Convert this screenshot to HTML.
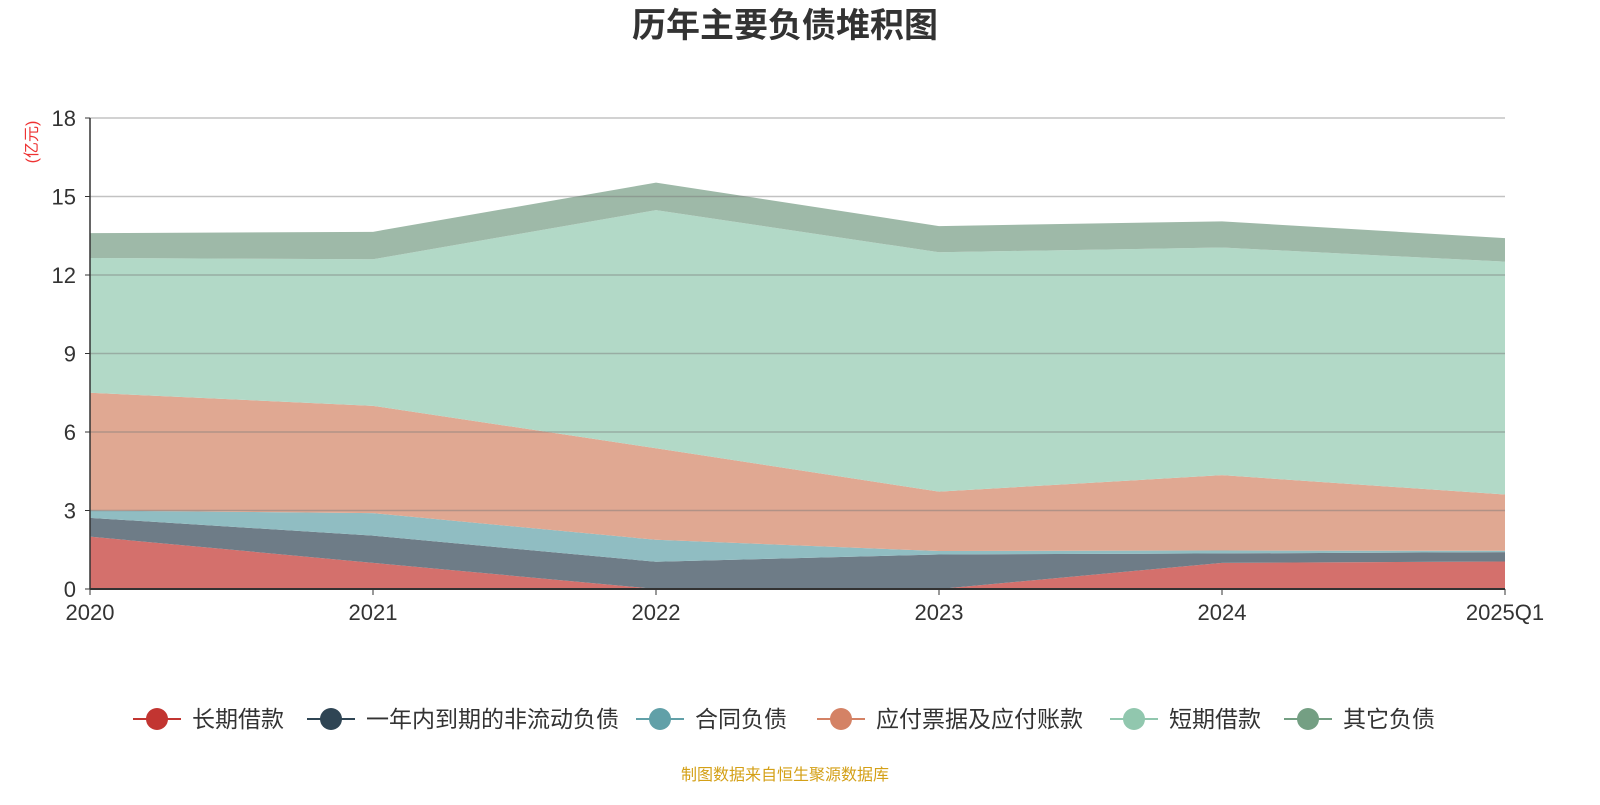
<!DOCTYPE html>
<html><head><meta charset="utf-8"><style>
body{margin:0;background:#fff;font-family:"Liberation Sans","Noto Sans CJK SC",sans-serif}
</style></head><body>
<svg id="c" width="1600" height="800" xmlns="http://www.w3.org/2000/svg" style="font-family:'Liberation Sans','Noto Sans CJK SC',sans-serif">
<text x="785" y="37" text-anchor="middle" font-size="34" font-weight="bold" fill="#333">历年主要负债堆积图</text>
<text transform="translate(37,142) rotate(-90)" text-anchor="middle" font-size="16" fill="#e33">(亿元)</text>
<g id="areas"></g><g id="grid"></g><g id="axes"></g><g id="legend"></g>
<text x="785" y="780" text-anchor="middle" font-size="16" fill="#d4a017">制图数据来自恒生聚源数据库</text>
</svg>
<script>
const categories=["2020","2021","2022","2023","2024","2025Q1"];
const seriesNames=["长期借款","一年内到期的非流动负债","合同负债","应付票据及应付账款","短期借款","其它负债"];
const s0=[2.0,1.0,0,0,1.0,1.05];
const s1=[0.72,1.04,1.04,1.32,0.36,0.36];
const s2=[0.28,0.86,0.84,0.13,0.11,0.05];
const s3=[4.5,4.1,3.5,2.27,2.88,2.15];
const s4=[5.15,5.6,9.1,9.15,8.7,8.9];
const s5=[0.95,1.05,1.05,1.0,1.0,0.9];
const yTicks=[0,3,6,9,12,15,18];
const series=[s0,s1,s2,s3,s4,s5];
const fills=["#d4706c","#6e7c87","#90bdc2","#e0a892","#b2d9c7","#9eb9a8"];
const marks=["#c23531","#2f4554","#61a0a8","#d48265","#91c7ae","#749f83"];
const NS="http://www.w3.org/2000/svg";
const X0=90,X1=1505,Y0=589,Y1=118,YMAX=18;
const x=i=>X0+(X1-X0)*i/(categories.length-1);
const y=v=>Y0-(Y0-Y1)*v/YMAX;
function mk(t,a,p){const e=document.createElementNS(NS,t);for(const k in a)e.setAttribute(k,a[k]);p.appendChild(e);return e;}
const areas=document.getElementById('areas');
let base=categories.map(()=>0);
series.forEach((s,si)=>{
  const top=base.map((b,i)=>b+s[i]);
  let d=top.map((v,i)=>(i?'L':'M')+x(i)+','+y(v)).join('');
  for(let i=base.length-1;i>=0;i--)d+='L'+x(i)+','+y(base[i]);
  const p=mk('path',{d:d+'Z',fill:fills[si]},areas);
  
  
  base=top;
});
const grid=document.getElementById('grid'),axes=document.getElementById('axes');
yTicks.forEach(t=>{
  if(t>0){const l=mk('line',{x1:X0,x2:X1,y1:y(t),y2:y(t),stroke:'rgba(120,120,120,0.45)','stroke-width':1.5},grid);
  
  }
  mk('line',{x1:X0-5,x2:X0,y1:y(t),y2:y(t),stroke:'#333'},axes);
  const tx=mk('text',{x:X0-14,y:y(t)+8,'text-anchor':'end','font-size':22,fill:'#333'},axes);
  tx.textContent=t;
  
  
});
mk('line',{x1:X0,x2:X0,y1:Y1,y2:Y0,stroke:'#333','stroke-width':1.5},axes);
mk('line',{x1:X0,x2:X1,y1:Y0,y2:Y0,stroke:'#333','stroke-width':2},axes);
categories.forEach((c,i)=>{
  mk('line',{x1:x(i),x2:x(i),y1:Y0,y2:Y0+6,stroke:'#333'},axes);
  const tx=mk('text',{x:x(i),y:Y0+31,'text-anchor':'middle','font-size':22,fill:'#333'},axes);
  tx.textContent=c;
  
  
});
const lg=document.getElementById('legend');
const lx=[157,331,660,841,1134,1308];
seriesNames.forEach((n,i)=>{
  const g=mk('g',{},lg);
  
  
  mk('line',{x1:lx[i]-24,x2:lx[i]+24,y1:719,y2:719,stroke:marks[i],'stroke-width':2},g);
  mk('circle',{cx:lx[i],cy:719,r:11,fill:marks[i]},g);
  const t=mk('text',{x:lx[i]+35,y:727,'font-size':23,fill:'#333'},g);
  t.textContent=n;
});
</script>
</body></html>
